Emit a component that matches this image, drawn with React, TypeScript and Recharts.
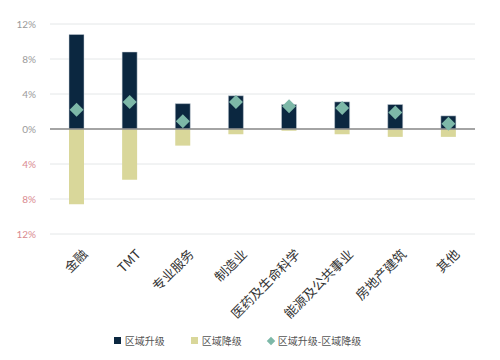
import {
  ComposedChart,
  Bar,
  Line,
  XAxis,
  YAxis,
  CartesianGrid,
  ReferenceLine,
  Legend,
} from "recharts";

const categories = ["金融", "TMT", "专业服务", "制造业", "医药及生命科学", "能源及公共事业", "房地产建筑", "其他"];
const upgrade = [10.8, 8.8, 2.9, 3.8, 2.8, 3.1, 2.8, 1.5];
const downgrade = [-8.6, -5.8, -1.9, -0.6, -0.2, -0.6, -0.9, -0.9];
const netChange = [2.2, 3.1, 0.9, 3.1, 2.6, 2.4, 1.9, 0.6];
const yTicks = [-12, -8, -4, 0, 4, 8, 12];

const NAVY = "#0b2740";
const KHAKI = "#d9d79a";
const TEAL = "#7db8a8";
const FONT = "Lato, 'Noto Sans CJK SC', sans-serif";

const data = categories.map((name, i) => ({
  name,
  up: upgrade[i],
  down: downgrade[i],
  net: netChange[i],
}));

function YTick({ x, y, payload }: any) {
  const v = payload.value;
  return (
    <text x={x} y={y} dy={3.5} textAnchor="end" fontSize={10} fontFamily={FONT} fill={v < 0 ? "#d98a8f" : "#9a9a9a"}>
      {Math.abs(v) + "%"}
    </text>
  );
}

function XTick({ x, y, payload }: any) {
  const ax = x + 12;
  const ay = y + 13;
  return (
    <text
      x={ax}
      y={ay}
      textAnchor="end"
      fontSize={13}
      fontFamily="'Noto Sans CJK SC', sans-serif"
      fill="#333"
      transform={`rotate(-45 ${ax} ${ay})`}
    >
      {payload.value}
    </text>
  );
}

function Diamond({ cx, cy }: any) {
  if (cx == null || cy == null) return null;
  const r = 7;
  return <polygon points={`${cx},${cy - r} ${cx + r},${cy} ${cx},${cy + r} ${cx - r},${cy}`} fill={TEAL} />;
}

function LegendBox() {
  const item = { display: "flex", alignItems: "center", gap: 4 } as const;
  return (
    <div style={{ display: "flex", justifyContent: "center", gap: 26, fontSize: 10, color: "#555", fontFamily: "'Noto Sans CJK SC', sans-serif" }}>
      <div style={item}>
        <span style={{ width: 7, height: 7, background: NAVY, display: "inline-block" }} />
        区域升级
      </div>
      <div style={item}>
        <span style={{ width: 7, height: 7, background: KHAKI, display: "inline-block" }} />
        区域降级
      </div>
      <div style={item}>
        <span style={{ width: 6, height: 6, background: TEAL, display: "inline-block", transform: "rotate(45deg)" }} />
        区域升级-区域降级
      </div>
    </div>
  );
}

export default function App() {
  return (
    <div style={{ position: "absolute", left: 0, top: 0, background: "#fff" }}>
      <ComposedChart
        width={500}
        height={360}
        data={data}
        stackOffset="sign"
        margin={{ top: 24, right: 25, bottom: 12, left: 0 }}
      >
        <CartesianGrid vertical={false} stroke="#e4e7e8" strokeWidth={1} />
        <XAxis dataKey="name" interval={0} tick={<XTick />} tickLine={false} axisLine={false} height={99} />
        <YAxis
          domain={[-12, 12]}
          ticks={yTicks}
          tick={<YTick />}
          tickLine={false}
          axisLine={false}
          width={50}
          tickMargin={8}
        />
        <Legend verticalAlign="bottom" content={<LegendBox />} />
        <Bar dataKey="up" stackId="a" fill={NAVY} stroke="#c9d1d8" strokeWidth={0.5} barSize={15} isAnimationActive={false} />
        <Bar dataKey="down" stackId="a" fill={KHAKI} barSize={15} isAnimationActive={false} />
        <ReferenceLine y={0} stroke="#8a8a8a" strokeWidth={1.5} />
        <Line dataKey="net" stroke="none" dot={<Diamond />} activeDot={false} legendType="none" isAnimationActive={false} />
      </ComposedChart>
    </div>
  );
}
